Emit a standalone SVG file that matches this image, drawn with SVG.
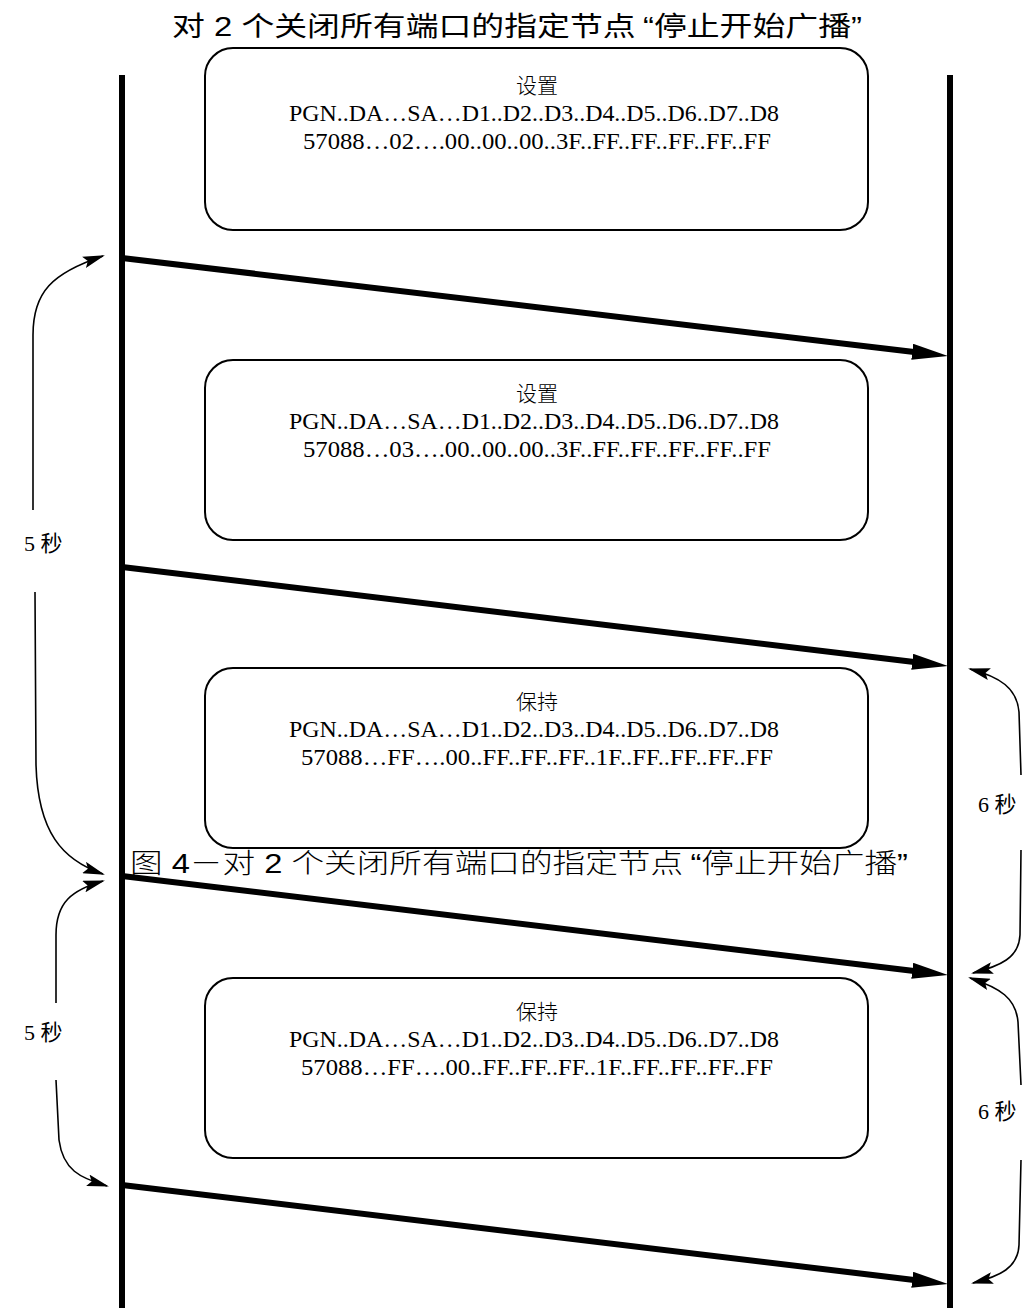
<svg xmlns="http://www.w3.org/2000/svg" width="1036" height="1308" viewBox="0 0 1036 1308">
<defs>
<style>
.life{stroke:#000;stroke-width:6;fill:none}
.msg{stroke:#000;stroke-width:6;fill:none;marker-end:url(#bigArrow)}
.dim{stroke:#000;stroke-width:1.6;fill:none;marker-end:url(#smallArrow)}
.box{fill:#fff;stroke:#000;stroke-width:2}
.bt{font-family:"Liberation Serif","Noto Sans CJK SC",serif;font-size:24px;fill:#000;text-anchor:middle}
.bh{font-family:"Noto Sans CJK SC",serif;font-size:21px;fill:#000;text-anchor:middle;font-weight:300}
.lbl{font-family:"Liberation Serif","Noto Sans CJK SC",serif;font-size:22px;fill:#000}
.title{font-family:"Liberation Sans","Noto Sans CJK SC",sans-serif;font-size:27px;fill:#000}
.cap{font-family:"Liberation Sans","Noto Sans CJK SC",sans-serif;font-size:27px;fill:#000;font-weight:300}
</style>
<marker id="bigArrow" markerUnits="userSpaceOnUse" viewBox="0 0 36 16" refX="4" refY="8" markerWidth="36" markerHeight="16" orient="auto">
<path d="M0,0 L36,8 L0,16 z" fill="#000"/>
</marker>
<marker id="smallArrow" markerUnits="userSpaceOnUse" viewBox="0 0 22 12" refX="20" refY="6" markerWidth="22" markerHeight="12" orient="auto">
<path d="M0,0 L22,6 L0,12 L4,6 z" fill="#000"/>
</marker>
</defs>
<rect width="1036" height="1308" fill="#fff"/>
<text class="title" x="172" y="36" textLength="690" lengthAdjust="spacingAndGlyphs">对 2 个关闭所有端口的指定节点<tspan dx="6">“</tspan>停止开始广播”</text>
<g id="lifelines">
<line id="lifeline-left" class="life" x1="122" y1="75" x2="122" y2="1308"/>
<line id="lifeline-right" class="life" x1="950" y1="75" x2="950" y2="1308"/>
</g>
<g id="node-set1">
<rect class="box" x="205" y="48" width="663" height="182" rx="28"/>
<text class="bh" x="537" y="93">设置</text>
<text class="bt" x="534" y="121" textLength="490" lengthAdjust="spacingAndGlyphs">PGN..DA…SA…D1..D2..D3..D4..D5..D6..D7..D8</text>
<text class="bt" x="537" y="149" textLength="468" lengthAdjust="spacingAndGlyphs">57088…02….00..00..00..3F..FF..FF..FF..FF..FF</text>
</g>
<g id="node-set2">
<rect class="box" x="205" y="360" width="663" height="180" rx="28"/>
<text class="bh" x="537" y="401">设置</text>
<text class="bt" x="534" y="429" textLength="490" lengthAdjust="spacingAndGlyphs">PGN..DA…SA…D1..D2..D3..D4..D5..D6..D7..D8</text>
<text class="bt" x="537" y="457" textLength="468" lengthAdjust="spacingAndGlyphs">57088…03….00..00..00..3F..FF..FF..FF..FF..FF</text>
</g>
<g id="node-hold1">
<rect class="box" x="205" y="668" width="663" height="180" rx="28"/>
<text class="bh" x="537" y="709">保持</text>
<text class="bt" x="534" y="737" textLength="490" lengthAdjust="spacingAndGlyphs">PGN..DA…SA…D1..D2..D3..D4..D5..D6..D7..D8</text>
<text class="bt" x="537" y="765" textLength="472" lengthAdjust="spacingAndGlyphs">57088…FF….00..FF..FF..FF..1F..FF..FF..FF..FF</text>
</g>
<g id="node-hold2">
<rect class="box" x="205" y="978" width="663" height="180" rx="28"/>
<text class="bh" x="537" y="1019">保持</text>
<text class="bt" x="534" y="1047" textLength="490" lengthAdjust="spacingAndGlyphs">PGN..DA…SA…D1..D2..D3..D4..D5..D6..D7..D8</text>
<text class="bt" x="537" y="1075" textLength="472" lengthAdjust="spacingAndGlyphs">57088…FF….00..FF..FF..FF..1F..FF..FF..FF..FF</text>
</g>
<g id="connectors">
<line class="msg" x1="122" y1="258" x2="916.2" y2="352.2"/>
<line class="msg" x1="122" y1="567" x2="916.2" y2="662.2"/>
<line class="msg" x1="122" y1="876" x2="916.2" y2="971.2"/>
<line class="msg" x1="122" y1="1185" x2="916.2" y2="1280.2"/>
<path class="dim" d="M33,510 L33,335 C33,292 52,273 103,256"/>
<path class="dim" d="M35,592 L36,765 C38,832 62,860 103,874"/>
<path class="dim" d="M56,1003 L56,935 C56,902 72,890 103,881"/>
<path class="dim" d="M56,1080 L59,1140 C63,1170 80,1178 107,1186"/>
<path class="dim" d="M1021,775 L1019,712 C1017,688 1000,677 970,669"/>
<path class="dim" d="M1021,850 L1020,935 C1019,958 1000,966 973,973"/>
<path class="dim" d="M1021,1085 L1018,1022 C1016,998 1000,988 970,978"/>
<path class="dim" d="M1021,1160 L1019,1245 C1018,1268 1000,1276 973,1283"/>
</g>
<g id="labels">
<text class="lbl" x="24" y="551">5 秒</text>
<text class="lbl" x="24" y="1040">5 秒</text>
<text class="lbl" x="978" y="812">6 秒</text>
<text class="lbl" x="978" y="1119">6 秒</text>
</g>
<text class="cap" x="130" y="873" textLength="778" lengthAdjust="spacingAndGlyphs">图 4－对 2 个关闭所有端口的指定节点<tspan dx="6">“</tspan>停止开始广播”</text>
</svg>
